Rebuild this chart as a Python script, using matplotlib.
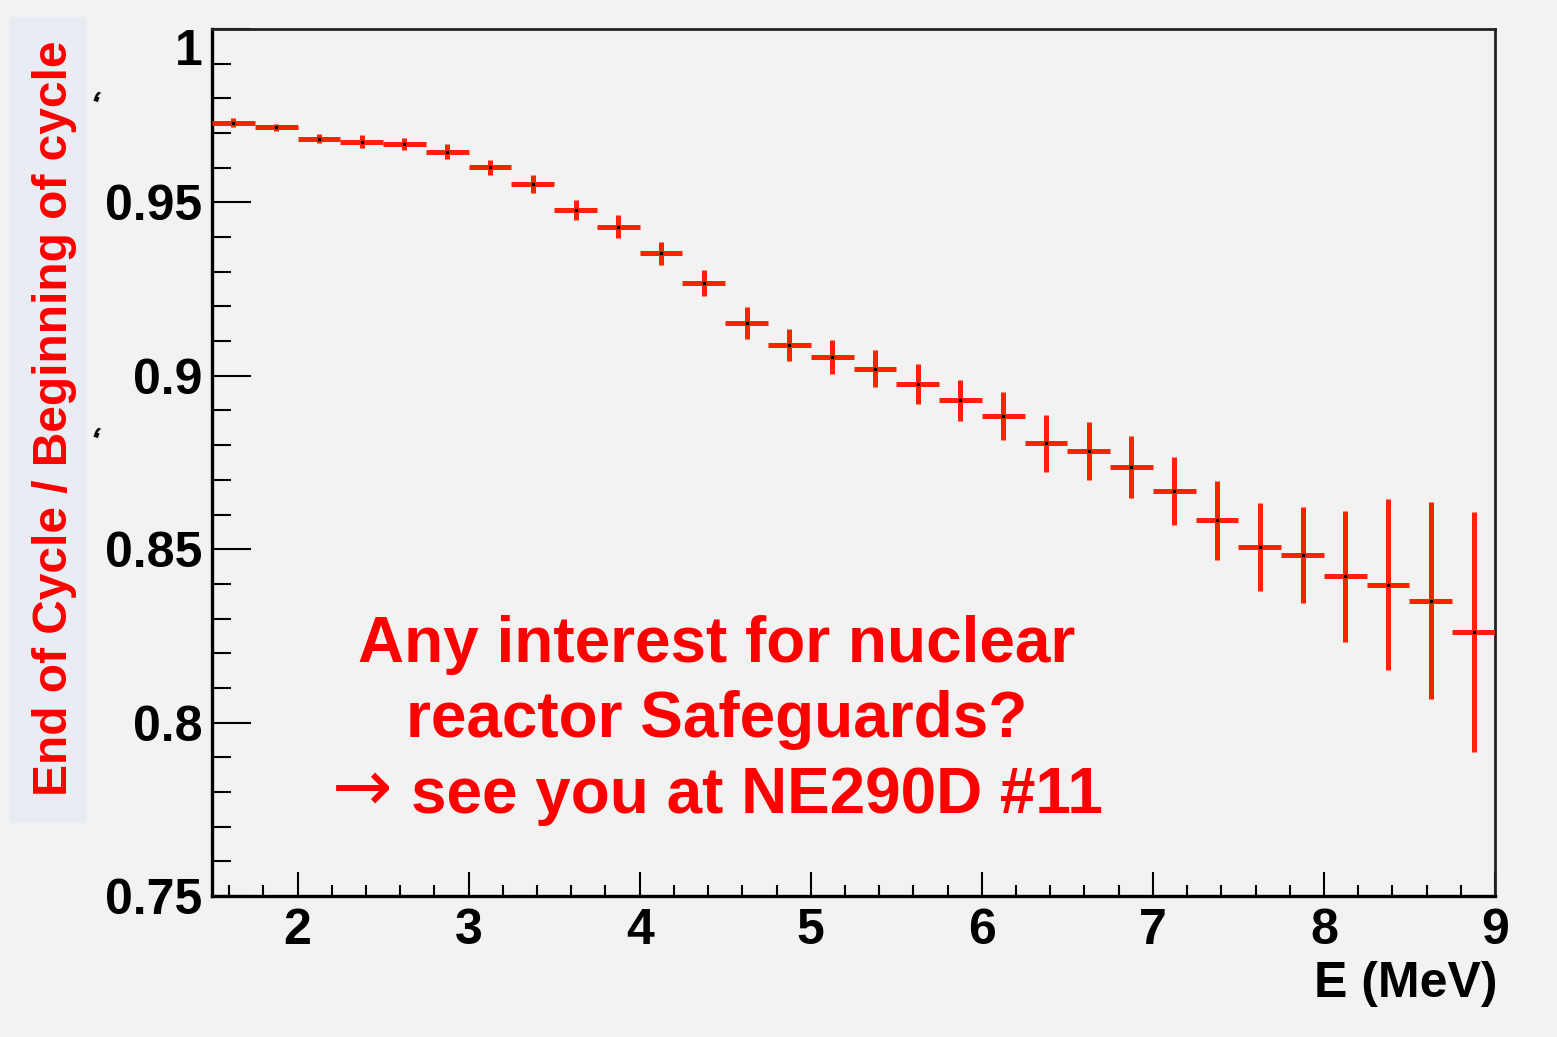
import matplotlib
matplotlib.use("Agg")
import matplotlib.pyplot as plt
from matplotlib.patches import Rectangle
from matplotlib.ticker import FixedLocator, MultipleLocator

# ---- data ----
bin_centers = [1.625, 1.875, 2.125, 2.375, 2.625, 2.875, 3.125, 3.375, 3.625, 3.875,
               4.125, 4.375, 4.625, 4.875, 5.125, 5.375, 5.625, 5.875, 6.125, 6.375,
               6.625, 6.875, 7.125, 7.375, 7.625, 7.875, 8.125, 8.375, 8.625, 8.875]
ratio = [0.9730, 0.9716, 0.9684, 0.9675, 0.9668, 0.9646, 0.9601, 0.9553, 0.9478, 0.9430,
         0.9353, 0.9268, 0.9152, 0.9090, 0.9053, 0.9021, 0.8976, 0.8929, 0.8883, 0.8805,
         0.8783, 0.8736, 0.8668, 0.8583, 0.8506, 0.8483, 0.8422, 0.8398, 0.8352, 0.8260]
ratio_err = [0.0013, 0.0011, 0.0014, 0.0019, 0.0018, 0.0022, 0.0022, 0.0026, 0.0029, 0.0034,
             0.0034, 0.0037, 0.0045, 0.0046, 0.0049, 0.0053, 0.0058, 0.0060, 0.0069, 0.0081,
             0.0084, 0.0089, 0.0099, 0.0115, 0.0127, 0.0138, 0.0189, 0.0246, 0.0285, 0.0346]
bin_half_width = 0.125

x_ticks = [2, 3, 4, 5, 6, 7, 8, 9]
x_tick_labels = ["2", "3", "4", "5", "6", "7", "8", "9"]
y_ticks = [0.75, 0.80, 0.85, 0.90, 0.95, 1.00]
y_tick_labels = ["0.75", "0.8", "0.85", "0.9", "0.95", "1"]

x_label = "E (MeV)"
y_label = "End of Cycle / Beginning of cycle"
note_lines = ["Any interest for nuclear", "reactor Safeguards?", "see you at NE290D #11"]
note_arrow = "\u2192"

# ---- figure ----
W, H = 1557, 1037
BG = "#f2f2f2"
RED = "#ff0000"
DATA_RED = "#ff2200"
FONT = ["Liberation Sans", "DejaVu Sans"]

fig = plt.figure(figsize=(W / 100, H / 100), dpi=100, facecolor=BG)

def px(x, y):
    return x / W, 1 - y / H

ax_l, ax_r, ax_t, ax_b = 212, 1495, 29, 896
ax = fig.add_axes([ax_l / W, 1 - ax_b / H, (ax_r - ax_l) / W, (ax_b - ax_t) / H])
ax.set_facecolor(BG)

ax.errorbar(bin_centers, ratio, xerr=bin_half_width, yerr=ratio_err, fmt="none",
            ecolor=DATA_RED, elinewidth=3.6, capsize=0, zorder=3)
ax.plot(bin_centers, ratio, linestyle="none", marker="s", ms=1.5, color="black", zorder=4)

ax.set_xlim(1.5, 9)
ax.set_ylim(0.75, 1.0)

ax.xaxis.set_major_locator(FixedLocator(x_ticks))
ax.set_xticklabels(x_tick_labels)
ax.xaxis.set_minor_locator(MultipleLocator(0.2))
ax.yaxis.set_major_locator(FixedLocator(y_ticks))
ax.set_yticklabels(y_tick_labels)
ax.yaxis.set_minor_locator(MultipleLocator(0.01))

ax.tick_params(axis="x", which="major", direction="in", length=17, width=1.5, pad=9,
               top=False, labelsize=36)
ax.tick_params(axis="x", which="minor", direction="in", length=8, width=1.5, top=False)
ax.tick_params(axis="y", which="major", direction="in", length=28, width=1.5, pad=7,
               right=False, labelsize=36)
ax.tick_params(axis="y", which="minor", direction="in", length=14, width=1.5, right=False)
for lab in ax.get_xticklabels() + ax.get_yticklabels():
    lab.set_fontfamily(FONT)
    lab.set_fontweight("bold")
ax.get_yticklabels()[-1].set_va("top")

for side in ["left", "bottom"]:
    ax.spines[side].set_linewidth(2.4)
    ax.spines[side].set_color("black")
for side in ["top", "right"]:
    ax.spines[side].set_linewidth(2.0)
    ax.spines[side].set_color("#222222")

# x label
fig.text(*px(1497, 997), x_label, ha="right", va="baseline", fontsize=36,
         fontweight="bold", family=FONT, color="black")

# y label box + text
fig.patches.append(Rectangle(px(9, 823), 78 / W, (823 - 17) / H, transform=fig.transFigure,
                             facecolor="#e8edf4", edgecolor="none", zorder=0))
fig.text(*px(67, 418), y_label, rotation=90, rotation_mode="anchor", ha="center",
         va="baseline", fontsize=34.5, fontweight="bold", family=FONT, color=RED)
# small stray marks left over from the original axis title
for yy in (102, 438):
    fig.text(*px(91, yy), ",", ha="center", va="center", fontsize=24,
             fontweight="bold", family=FONT, color="black", rotation=160)

# annotation
fig.text(*px(717, 662), note_lines[0], ha="center", va="baseline", fontsize=46,
         fontweight="bold", family=FONT, color=RED)
fig.text(*px(717, 737), note_lines[1], ha="center", va="baseline", fontsize=46,
         fontweight="bold", family=FONT, color=RED)
fig.text(*px(411, 813), note_lines[2], ha="left", va="baseline", fontsize=46,
         fontweight="bold", family=FONT, color=RED)
fig.text(*px(362, 791), note_arrow, ha="center", va="center", fontsize=52,
         family=["DejaVu Sans"], color=RED)

fig.savefig("out.png", dpi=100, facecolor=BG)
